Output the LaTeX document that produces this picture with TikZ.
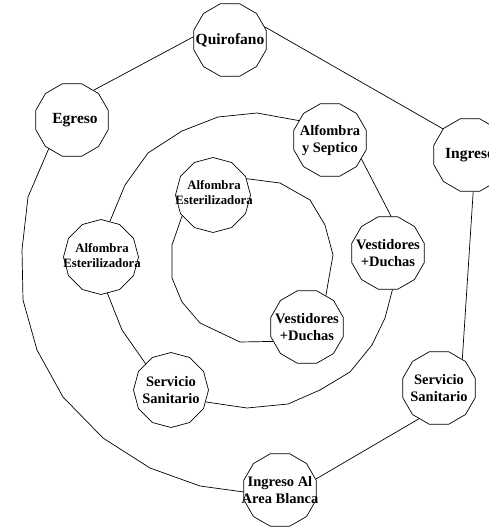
\documentclass[tikz,border=0pt]{standalone}
\usepackage{fontspec}
\setmainfont{Liberation Serif}
\usetikzlibrary{shapes.geometric}
\begin{document}
\begin{tikzpicture}[x=1pt,y=-1pt,line width=0.7pt,
  poly/.style={draw,regular polygon,regular polygon sides=12,minimum size=75pt,inner sep=0pt},
  polyv/.style={poly,shape border rotate=15},
  lbl/.style={align=center,inner sep=0pt,font=\bfseries\fontsize{14.5}{17}\selectfont},
  lblbig/.style={lbl,font=\bfseries\fontsize{15.5}{18}\selectfont},
  lblsm/.style={align=center,inner sep=0pt,font=\bfseries\fontsize{12.8}{15}\selectfont}]
\useasboundingbox (0,0) rectangle (488,528);
% nodes
\node[poly]  (quir)  at (230,40)  {};
\node[poly]  (egr)   at (72,120)  {};
\node[poly]  (ingr)  at (470,155) {};
\node[poly]  (sept)  at (330,140) {};
\node[polyv] (alfI)  at (213,195) {};
\node[polyv] (alfL)  at (101,257) {};
\node[poly]  (vestM) at (388,253) {};
\node[poly]  (vestI) at (307,327) {};
\node[polyv] (servL) at (171,390) {};
\node[poly]  (servR) at (439,388) {};
\node[poly]  (ingal) at (280,490) {};
% labels
\node[lblbig] (quir-t)  at (quir)  {Quirofano};
\node[lblbig] (egr-t)   at (75,120) {Egreso};
\node[lblbig] (ingr-t)  at (ingr)  {Ingreso};
\node[lbl]    (sept-t)  at (sept)  {Alfombra\\y Septico};
\node[lblsm]  (alfI-t)  at (214,193) {Alfombra\\Esterilizadora};
\node[lblsm]  (alfL-t)  at (102,256) {Alfombra\\Esterilizadora};
\node[lbl]    (vestM-t) at (vestM) {Vestidores\\+Duchas};
\node[lbl]    (vestI-t) at (vestI) {Vestidores\\+Duchas};
\node[lbl]    (servL-t) at (servL) {Servicio\\Sanitario};
\node[lbl]    (servR-t) at (servR) {Servicio\\Sanitario};
\node[lbl]    (ingal-t) at (ingal) {Ingreso Al\\Area Blanca};
% outer ring
\draw (quir.21) -- (ingr.136);
\draw (quir.175) -- (egr.54);
\draw (egr.231) -- (28,197) -- (22,250) -- (23,300) -- (37,350) -- (63,397)
  -- (103,438) -- (150,468) -- (200,486) -- (ingal.183);
\draw (ingr.275) -- (servR.51);
\draw (servR.237) -- (ingal.17);
% middle ring
\draw (sept.329) -- (vestM.85);
\draw (vestM.277) -- (385,318) -- (372,345) -- (350,372) -- (320,390)
  -- (288,404) -- (247,408) -- (servL.341);
\draw (servL.134) -- (122,330) -- (alfL.280);
\draw (alfL.76) -- (125,185) -- (148,153) -- (182,131) -- (218,117)
  -- (257,113) -- (sept.148);
% inner ring
\draw (alfI.26) -- (280,183) -- (310,200) -- (325,225) -- (333,255) -- (vestI.59);
\draw (alfI.214) -- (172,245) -- (172,278) -- (182,302) -- (200,323)
  -- (240,342) -- (vestI.203);
\end{tikzpicture}
\end{document}
